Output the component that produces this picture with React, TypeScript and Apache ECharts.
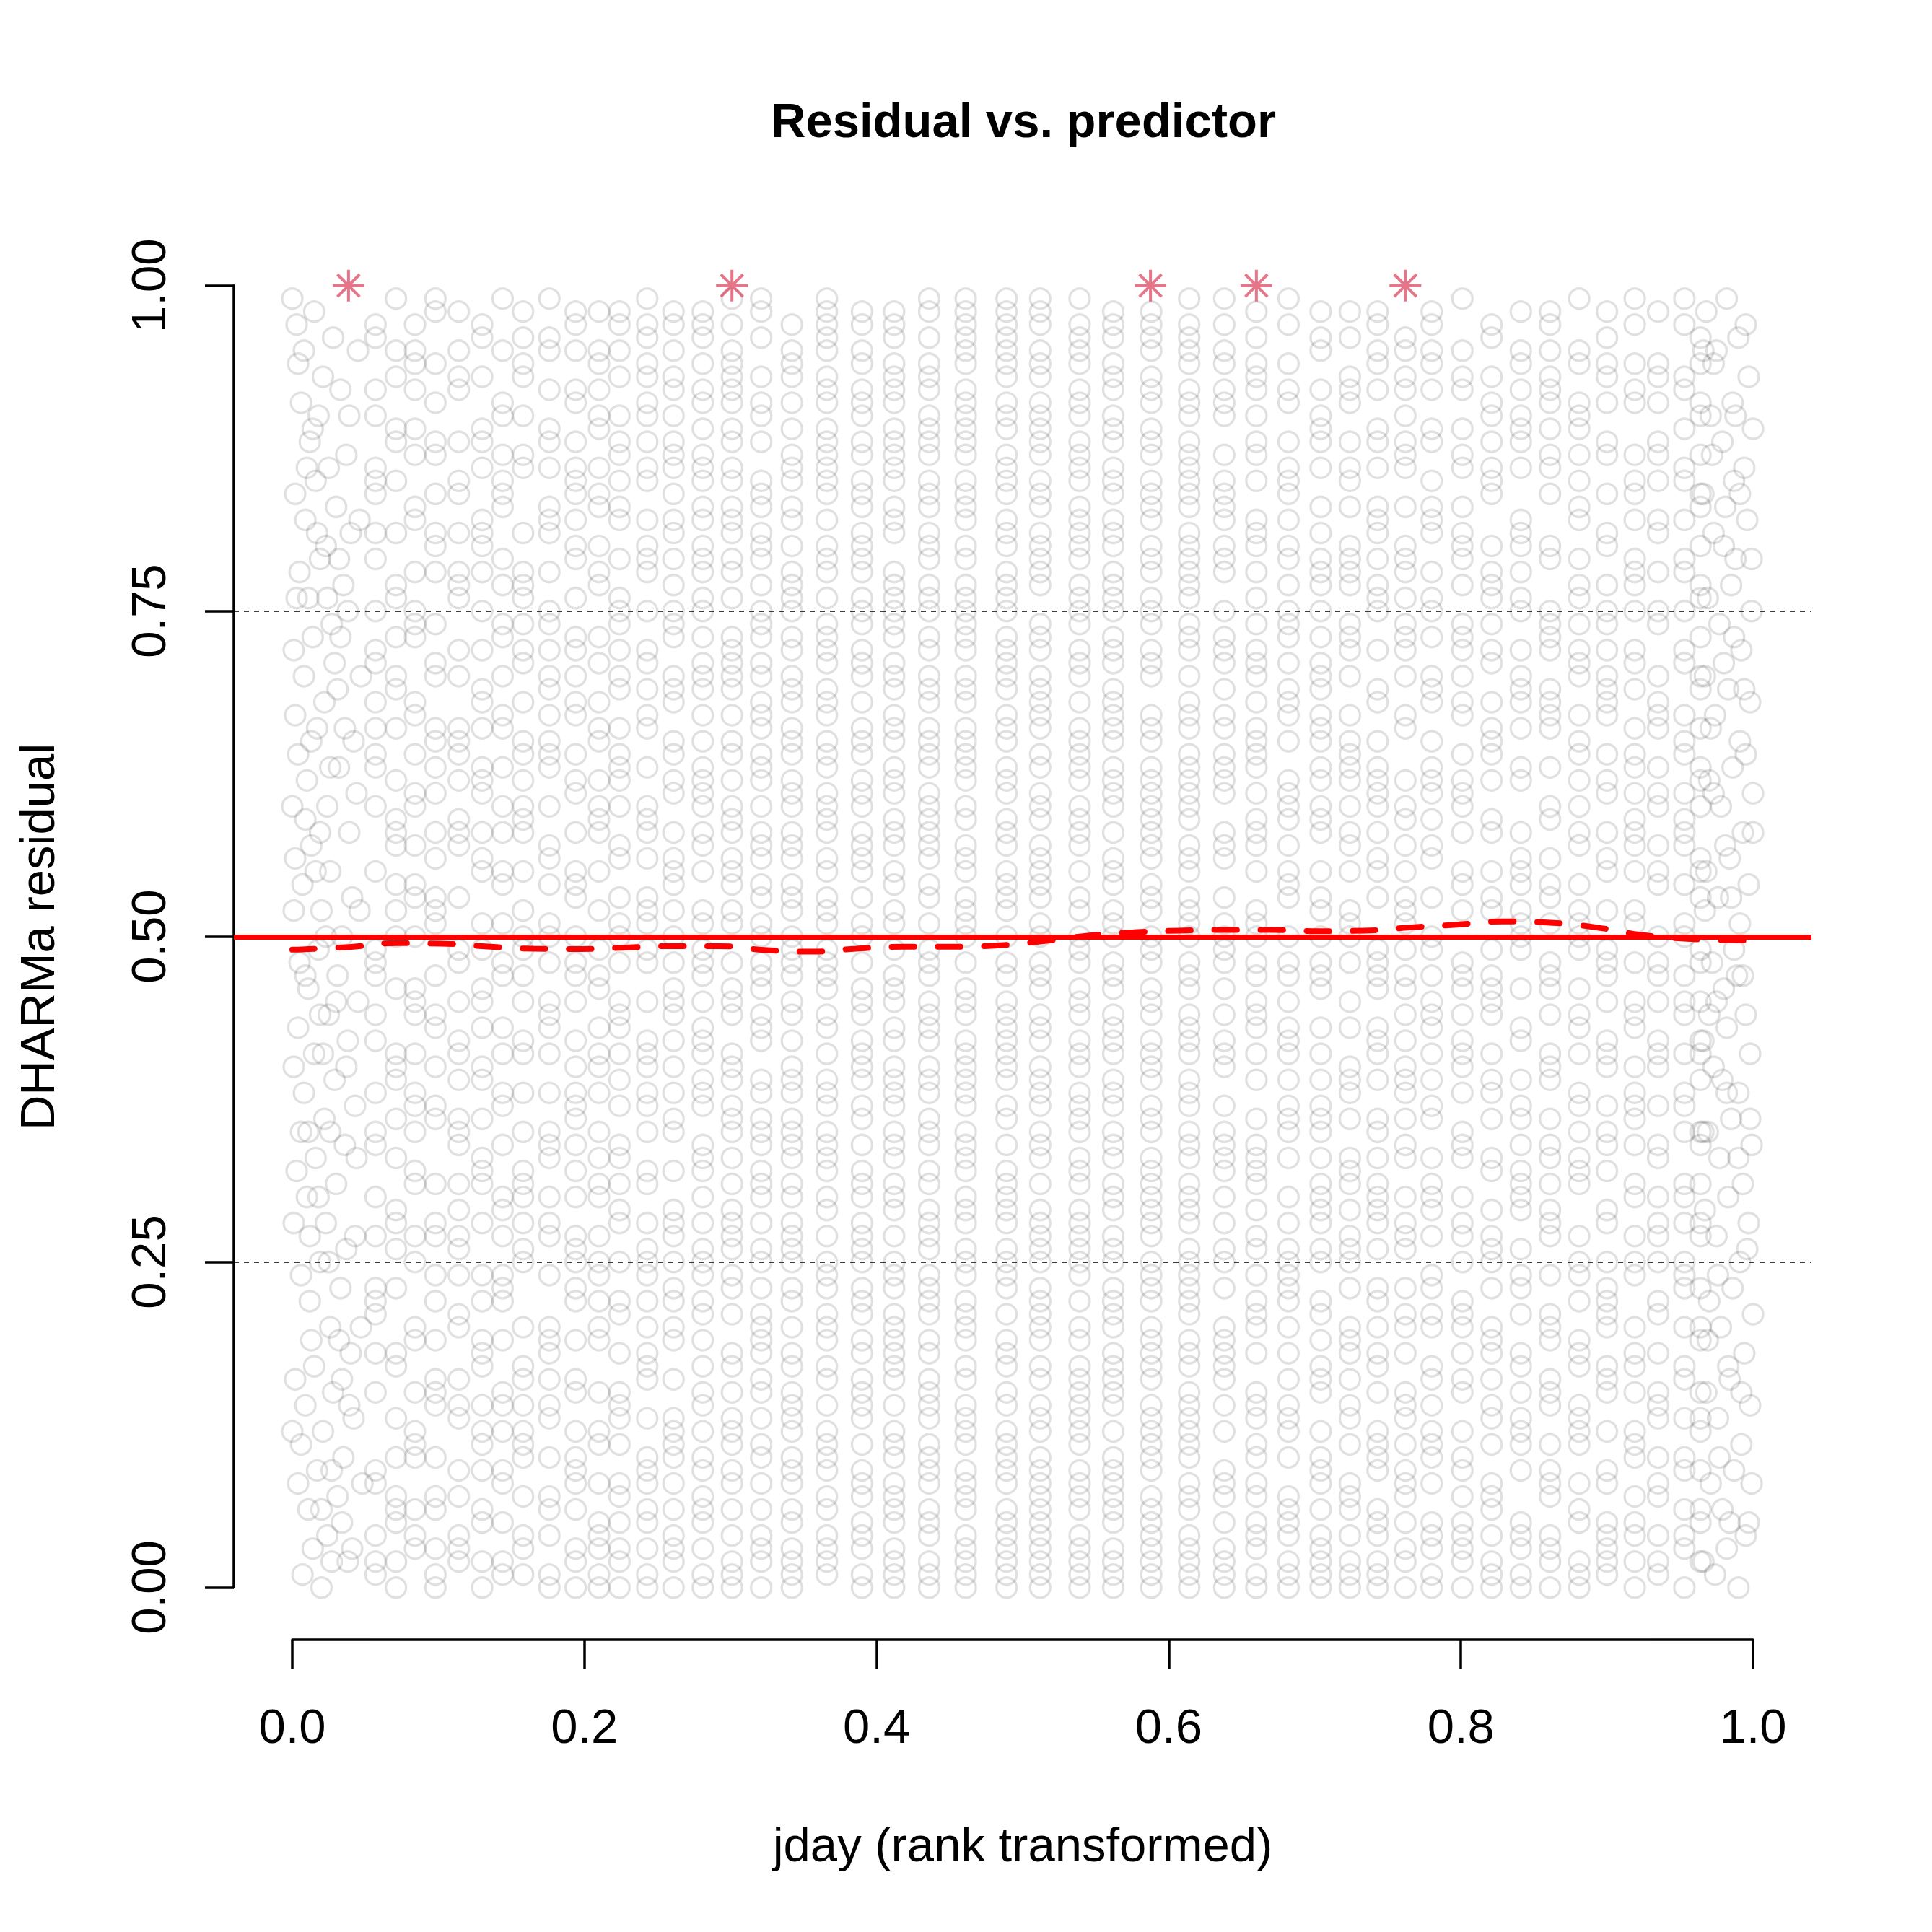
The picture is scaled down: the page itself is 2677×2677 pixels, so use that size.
import React, { useEffect, useRef } from "react";
import * as echarts from "echarts";

// x position of every tied jday group (rank transformed)
const columnX = [
  0.057, 0.071, 0.084, 0.098, 0.114, 0.13, 0.144, 0.158, 0.176, 0.194, 0.21, 0.224,
  0.243, 0.261, 0.281, 0.301, 0.321, 0.342, 0.366, 0.39, 0.412, 0.436, 0.461, 0.489,
  0.512, 0.539, 0.562, 0.588, 0.614, 0.638, 0.66, 0.682, 0.704, 0.724, 0.743, 0.762,
  0.78, 0.801, 0.821, 0.841, 0.861, 0.881, 0.9, 0.919, 0.935, 0.953, 0.964,
];

// scaled residuals per column, in hundredths
const columnY = [
  "01 02 08 09 15 21 22 23 30 34 35 42 47 48 49 55 63 64 66 71 72 79 84 85 86 90 96 97",
  "00 05 06 07 13 17 18 26 28 29 33 39 40 41 50 52 57 58 59 62 69 70 76 77 81 88 89 93 99",
  "03 04 10 11 12 19 20 25 31 32 37 38 44 45 46 53 54 60 61 67 68 73 74 75 82 83 87 92 94 95",
  "00 01 06 07 14 15 16 22 24 27 28 36 37 43 44 51 52 53 56 63 65 66 70 71 78 80 81 87 88 91 98 99",
  "02 03 04 09 13 14 20 21 26 27 29 34 35 36 41 42 48 49 57 58 59 64 65 66 72 76 77 78 84 85 92 93 95",
  "00 05 06 11 12 17 18 19 24 31 32 33 39 40 45 46 51 55 56 61 62 63 68 69 75 80 81 82 88 89 96 97",
  "01 02 08 09 14 15 22 23 24 29 30 37 38 43 47 48 54 55 60 66 67 73 74 79 83 84 85 90 91 99",
  "03 04 10 11 12 16 17 25 26 30 31 32 38 41 42 49 50 52 58 59 60 64 65 71 72 76 77 78 86 87 93 94 98",
  "00 01 06 07 13 14 18 19 20 27 28 33 34 35 43 44 45 50 51 56 57 63 64 65 69 70 74 75 81 82 83 88 89 95 96 99",
  "02 03 08 09 10 15 16 22 23 26 27 32 36 37 38 42 47 48 53 54 55 61 62 67 68 72 73 79 80 84 85 86 91 92 97 98",
  "00 01 04 05 11 12 19 20 24 25 30 31 35 40 41 46 47 52 58 59 60 65 66 71 77 78 83 84 89 90 94 95",
  "02 03 07 08 13 14 15 21 22 28 29 33 34 39 43 44 45 50 51 56 57 62 63 64 69 70 74 75 76 82 83 87 88 93 97 98",
  "00 01 05 06 09 10 16 17 18 24 25 26 31 32 37 38 41 42 48 49 52 53 58 59 60 66 67 71 72 78 79 80 85 86 90 91 94 96 99",
  "02 03 04 08 11 12 13 19 20 23 27 28 29 35 36 40 44 45 46 50 54 55 56 61 62 65 68 69 73 74 77 81 82 84 87 88 92 93 95 97",
  "00 01 05 06 07 10 14 15 17 21 22 25 26 30 33 34 38 39 42 43 47 48 49 52 57 58 61 62 63 67 70 71 75 76 79 80 83 86 87 89 91 94 96 98",
  "01 02 04 08 09 12 13 17 18 23 24 27 28 29 33 36 37 40 41 45 46 51 52 55 56 59 60 64 65 69 70 72 73 78 79 82 83 86 88 89 92 93 95 97",
  "00 03 04 06 10 11 15 16 19 20 21 25 26 31 32 35 36 39 43 44 47 48 51 53 54 57 58 62 63 66 67 68 71 74 75 77 80 81 84 85 90 91 96 99",
  "00 01 02 05 06 09 10 13 14 15 18 22 23 26 27 28 31 34 35 36 39 40 44 45 48 49 50 53 54 57 58 61 62 65 66 69 70 73 76 77 78 82 83 86 87 91 94 95",
  "01 02 03 06 07 10 11 12 16 17 20 21 24 25 29 30 33 34 35 38 39 43 44 47 48 49 52 53 56 59 60 61 64 65 68 69 72 73 74 78 79 82 85 86 88 89 92 93 96 97 99",
  "00 01 04 05 08 09 13 14 15 18 19 22 23 26 27 28 31 32 36 37 40 41 42 45 46 50 51 55 56 57 60 61 64 65 68 71 72 75 76 79 80 81 84 85 88 90 91 94 95 98",
  "00 02 03 06 07 08 11 12 16 17 19 20 21 24 25 29 30 33 34 37 38 39 42 43 46 47 51 52 55 58 59 62 63 66 67 70 71 74 75 77 78 82 83 86 87 89 92 93 96 97",
  "01 02 05 06 09 10 11 14 15 18 19 22 23 26 27 28 31 32 35 36 39 40 43 44 45 48 49 53 54 57 58 60 61 64 65 66 69 70 73 76 77 80 81 84 85 88 89 90 93 94 98 99",
  "00 01 03 04 07 08 09 12 13 16 17 20 21 22 25 26 29 30 33 34 35 38 39 41 42 45 46 50 51 52 55 56 59 60 63 64 65 68 69 72 73 75 76 79 80 83 84 85 88 89 91 92 95 96 98 99",
  "00 02 03 05 06 09 10 11 14 15 18 19 23 24 25 28 29 31 32 36 37 40 41 43 44 47 48 52 53 54 57 58 61 62 66 67 70 71 72 75 76 78 81 82 85 86 87 90 91 94 95 97 99",
  "01 02 04 05 06 08 09 12 13 16 17 20 21 22 25 26 28 29 33 34 37 38 39 42 43 46 47 50 51 54 55 56 59 60 63 64 67 68 69 72 73 77 78 80 81 84 85 88 89 90 93 94 97 98",
  "00 01 03 04 07 08 11 12 13 15 16 19 20 24 25 27 28 31 32 35 36 37 40 41 44 45 48 49 52 53 57 58 59 62 63 65 66 70 71 74 75 76 79 80 82 83 86 87 91 92 95 96 99",
  "00 02 03 06 07 09 10 14 15 17 18 21 22 23 26 27 30 31 34 35 38 39 42 43 46 47 51 52 55 56 60 61 62 65 66 68 69 72 73 76 77 80 81 84 85 88 89 92 93 96 97",
  "01 02 04 05 06 09 10 12 13 16 17 19 20 23 24 27 28 30 31 32 35 36 39 40 41 44 45 48 49 53 54 57 58 59 61 62 65 66 70 71 74 75 78 79 82 83 84 87 88 91 92 95 96 98",
  "00 01 03 04 07 08 11 12 14 15 18 19 22 23 25 26 29 30 33 34 37 38 42 43 46 47 50 51 52 55 56 60 61 63 64 67 68 72 73 76 77 79 80 83 84 86 87 90 91 94 95 97",
  "00 01 02 07 08 12 16 17 18 19 25 26 30 33 34 35 40 41 44 48 49 50 51 56 57 62 63 64 67 71 72 73 78 79 83 84 85 90 91 92 95 97",
  "01 03 04 05 10 11 14 15 20 21 22 27 31 32 33 34 39 43 44 45 50 51 52 58 59 63 64 65 66 71 72 76 80 81 82 87 88 93 94 96 98",
  "00 01 05 06 07 12 13 14 18 23 24 25 26 30 35 36 37 42 43 47 48 53 54 55 60 61 62 67 68 69 74 75 79 80 84 85 86 91 92 97",
  "00 02 03 04 09 10 15 16 17 21 22 28 29 30 31 36 37 41 46 47 48 52 53 58 59 60 65 66 67 70 71 77 78 79 83 88 89 90 95 96",
  "01 02 06 07 08 13 14 19 20 25 26 27 32 33 38 39 40 45 50 51 52 57 58 63 64 65 72 73 74 79 80 85 86 91 92 93 98",
  "00 01 04 05 10 11 12 17 18 22 23 29 30 31 35 36 41 42 43 48 49 55 56 61 62 63 68 69 75 76 77 82 83 88 89 94 95 97",
  "02 03 07 08 09 14 15 20 21 26 27 28 33 34 38 39 40 46 47 51 52 53 59 60 66 67 72 73 74 79 80 86 87 88 92 93 96",
  "00 01 04 05 10 11 12 16 17 23 24 29 30 31 36 37 43 44 45 49 50 56 57 61 62 63 69 70 75 76 81 82 83 88 89 94 95 98",
  "00 03 04 05 09 10 15 16 20 21 22 27 28 34 35 40 41 42 47 48 54 55 60 61 62 67 68 73 74 79 80 81 86 87 92 93 99",
  "01 02 06 07 08 13 14 18 19 25 26 27 32 33 38 39 45 46 47 52 53 58 59 64 65 66 71 72 77 78 84 85 86 90 91 96 97",
  "00 01 04 05 11 12 13 17 18 23 24 30 31 32 36 37 42 43 50 51 52 55 56 62 63 68 69 70 75 76 81 82 88 89 90 94 95",
  "02 03 07 08 09 14 15 20 21 27 28 29 33 34 40 41 46 47 48 53 54 59 60 66 67 68 73 74 79 80 86 87 91 92 93 97 98",
  "00 01 05 06 11 12 13 18 19 24 25 31 32 33 37 38 43 44 50 51 52 57 58 64 65 70 71 72 76 77 82 83 89 90 91 95 99",
  "01 02 03 08 09 15 16 21 22 23 28 29 34 35 41 42 47 48 49 55 56 61 62 68 69 70 74 75 80 81 87 88 93 94 96",
  "00 04 05 10 11 12 17 18 24 25 30 31 36 37 38 44 45 51 52 57 58 59 63 64 71 72 77 78 79 84 85 91 92 97",
  "01 02 07 08 13 14 15 21 22 27 28 33 34 40 41 42 47 48 54 55 60 61 66 67 68 74 75 81 82 87 88 93 94",
  "00 03 04 09 10 16 17 23 24 25 30 31 37 38 44 45 50 51 57 58 59 64 65 71 72 78 79 85 86 92 93 97",
  "02 05 06 12 13 19 20 27 28 34 35 41 42 48 49 55 56 62 63 69 70 76 77 83 84 90 91 96",
];

// further residuals of the same columns (second pass over the picture)
const columnYMore = [
  "04 18 27 38 44 60 68 75 81 92",
  "02 10 23 36 46 54 66 73 85 95",
  "06 15 27 35 41 50 57 64 78 89 97",
  "03 10 19 31 40 47 58 61 74 84 94",
  "07 16 24 31 39 45 53 62 70 81 88 98",
  "02 09 14 22 28 36 43 49 58 66 72 78 86 93",
  "05 12 19 27 34 41 51 58 63 70 77 87 95",
  "01 07 14 20 28 35 45 47 55 62 68 74 81 90 96",
  "04 10 16 24 30 38 41 48 54 60 67 72 78 86 92",
  "00 06 12 19 25 30 34 40 45 50 58 64 70 76 82 88 95",
  "03 08 15 22 27 33 38 43 49 55 62 68 73 80 86 92 98",
  "00 05 11 18 25 31 37 41 48 53 60 66 72 79 85 90 95",
  "03 08 13 20 22 28 35 40 45 51 56 63 69 75 82 88 93 97",
  "00 06 10 16 22 25 32 38 42 48 52 58 64 70 75 79 86 90 98",
  "03 09 12 19 24 28 32 37 41 45 51 55 60 65 69 73 78 82 85 92 97",
  "00 06 11 15 21 26 31 35 39 44 48 54 58 62 67 71 76 81 85 91 94 99",
  "02 08 13 18 23 28 30 34 38 42 46 50 56 60 64 70 73 79 83 88 93 98",
  "03 08 12 17 20 25 30 33 38 42 47 52 56 60 64 68 72 75 80 85 89 93 97",
  "04 09 14 19 23 27 32 37 41 46 51 55 58 63 67 71 76 80 84 87 91 95 98",
  "03 07 11 16 21 25 30 34 39 44 48 53 58 62 66 70 74 78 83 87 92 97",
  "01 05 10 14 18 23 27 31 35 40 45 49 54 57 61 65 69 73 76 81 85 88 91 94 98",
  "00 04 08 13 16 21 24 29 34 38 42 47 51 56 59 63 68 72 75 79 83 87 92 96",
  "02 06 11 14 19 24 28 32 37 40 44 48 53 57 62 66 70 74 77 82 87 90 94 97",
  "01 04 08 12 17 21 26 30 34 39 42 45 50 55 59 63 65 69 73 77 80 84 89 93 96 98",
  "00 03 07 10 14 19 23 27 31 35 40 44 48 53 57 61 66 70 74 79 83 87 91 95 99",
  "02 06 09 14 17 22 26 29 33 38 42 46 50 55 60 64 68 72 77 81 85 88 90 94 97",
  "01 05 08 12 16 20 25 29 33 37 41 44 48 50 54 58 63 67 71 75 78 82 86 90 94 98",
  "00 03 07 11 14 18 22 25 29 33 37 42 46 50 52 56 60 63 67 72 76 80 85 89 93 97",
  "02 06 10 13 17 21 24 28 31 35 39 41 44 48 53 57 59 62 66 70 74 78 81 85 88 92 96 99",
  "03 05 09 14 20 23 28 32 37 42 46 53 58 61 66 69 75 80 82 87 94 99",
  "00 07 08 13 18 24 26 29 36 41 47 48 55 57 61 68 70 74 78 85 90 92",
  "02 04 10 16 20 22 28 33 39 41 45 50 57 59 65 71 73 77 82 88 94 99",
  "01 06 08 12 19 25 26 33 35 39 43 50 55 62 63 69 73 75 81 86 92 98",
  "00 04 11 16 18 23 29 31 36 43 48 55 60 62 67 70 77 78 83 88 96",
  "02 06 09 15 20 26 28 33 39 46 47 53 58 60 65 72 79 81 86 92 98",
  "00 05 11 13 18 23 30 36 42 44 49 55 57 62 70 76 78 83 90 95",
  "03 08 14 20 21 27 33 39 41 47 53 59 65 68 73 78 85 92 97",
  "02 07 12 18 25 30 33 38 44 46 52 58 64 70 72 77 83 89 95",
  "00 04 11 16 20 23 29 36 41 44 49 55 62 68 74 76 80 88 93",
  "03 09 15 21 26 29 34 39 46 49 54 58 66 72 78 80 86 92 98",
  "00 04 11 16 19 24 31 36 39 44 51 56 63 69 72 75 84 89 95",
  "02 08 14 17 22 27 35 41 46 49 54 60 62 67 74 79 85 87 94",
  "04 05 12 17 20 25 32 37 40 45 52 58 64 67 72 77 84 91 98",
  "02 07 15 20 27 34 40 43 48 55 61 66 69 75 82 87 94 99",
  "04 10 18 25 30 37 45 50 57 63 70 78 85 91 98",
  "06 13 20 28 35 41 47 54 61 67 75 82 89 99",
  "09 15 23 31 39 45 53 60 66 73 80 87 94",
];

// sparse days at both ends: "x (thousandths):y (hundredths)"
const leftEdge =
  "3:97 8:95 15:98 21:93 28:96 6:91 12:88 18:90 25:86 33:92 2:84 9:82 16:85 23:80 30:83 37:87 5:78 11:76 19:79 27:74 35:77 1:72 8:70 14:73 22:68 29:71 36:66 4:64 10:62 17:66 24:60 32:63 39:58 2:56 7:54 13:57 20:52 26:55 34:50 41:53 5:48 11:46 18:49 25:44 31:47 38:42 1:40 8:38 15:41 22:36 29:39 36:34 43:37 3:32 10:30 16:33 23:28 30:31 37:26 6:24 12:22 19:25 26:20 33:23 40:18 2:16 9:14 15:17 21:12 28:15 35:10 4:08 11:06 17:09 24:04 31:07 38:02 7:01 14:03 20:00 27:02 34:05 42:13 45:45 44:61 46:82 0:99 0:60 1:28 0:12 13:65 19:44 26:35 32:79 39:90 43:27 47:70 48:08 " +
  "4:94 10:86 17:81 24:76 31:69 2:67 9:59 16:55 23:50 30:45 37:40 4:43 11:35 18:30 25:25 32:19 39:14 6:11 13:19 20:06 27:09 34:16 41:03 1:52 6:35 12:27 19:58 26:63 33:73 40:81 45:95 44:33 47:20 46:52 42:65 38:75 3:76 9:47 14:89 21:41";
const rightEdge =
  "968:98 975:95 982:99 990:96 997:93 971:90 979:88 986:91 994:86 1000:89 966:84 973:81 981:83 988:79 996:82 969:76 977:74 985:77 992:72 999:75 967:70 974:67 983:69 991:65 998:68 970:62 978:60 986:63 993:58 1000:61 968:55 976:53 984:56 991:51 997:54 972:48 980:46 987:49 995:44 966:42 973:40 982:43 990:38 998:41 969:35 977:33 985:36 993:31 999:34 967:29 975:27 983:30 991:25 997:28 970:22 978:20 986:23 994:18 1000:21 968:15 976:13 984:16 992:11 998:14 971:08 979:06 987:09 995:04 966:02 974:01 982:03 990:00 997:05 989:47 981:57 973:94 995:64 987:85 979:39 " +
  "966:95 972:87 980:80 987:73 994:69 1000:58 967:52 975:45 982:38 990:33 996:26 969:19 977:10 984:05 992:15 999:08 973:61 980:71 988:90 995:97 966:35 970:44 985:53 993:47 998:36 976:24 983:17 991:84 999:79 971:66";

// simulation outliers
const outlierX = [0.0385, 0.301, 0.5875, 0.66, 0.762];
const outlierY = [1, 1, 1, 1, 1];

// smoothed median of the residuals
const smoothX = [
  0.0, 0.039, 0.071, 0.102, 0.134, 0.165, 0.198, 0.228, 0.26, 0.292, 0.323, 0.355, 0.386,
  0.418, 0.449, 0.481, 0.512, 0.547, 0.576, 0.607, 0.639, 0.671, 0.703, 0.734, 0.765,
  0.797, 0.829, 0.861, 0.893, 0.923, 0.955, 0.987, 0.996,
];
const smoothY = [
  0.49, 0.492, 0.495, 0.4946, 0.4924, 0.4907, 0.4905, 0.4916, 0.4927, 0.4927, 0.4898,
  0.4885, 0.4907, 0.4922, 0.4922, 0.4931, 0.4962, 0.501, 0.5033, 0.5046, 0.5051, 0.5051,
  0.5042, 0.5046, 0.507, 0.5092, 0.5116, 0.5107, 0.507, 0.5014, 0.4983, 0.4972, 0.497,
];

const quantileLines = [0.25, 0.75];
const medianLine = 0.5;

const FONT = '"Liberation Sans", Arial, Helvetica, sans-serif';

const parseEdge = (s: string) =>
  s.split(" ").map((p) => {
    const [a, b] = p.split(":");
    return [Number(a) / 1000, Number(b) / 100];
  });

const App = () => {
  const chartRef = useRef<HTMLDivElement>(null);

  useEffect(() => {
    if (!chartRef.current) return;
    const chart = echarts.init(chartRef.current, null, { renderer: "svg" });

    const points: number[][] = [];
    columnX.forEach((x, i) => {
      const vals = `${columnY[i] || ""} ${columnYMore[i] || ""}`.trim().split(/\s+/);
      vals.forEach((v) => points.push([x, Number(v) / 100]));
    });
    points.push(...parseEdge(leftEdge), ...parseEdge(rightEdge));

    const axisLine = { show: true, onZero: false, lineStyle: { color: "#000", width: 3.5 } };
    const axisTick = { show: true, inside: false, length: 40, lineStyle: { color: "#000", width: 3.5 } };
    const labelStyle = { color: "#000", fontSize: 67, fontFamily: FONT };

    const option: echarts.EChartsCoreOption = {
      animation: false,
      backgroundColor: "#fff",
      grid: [
        { left: 324, right: 167, top: 323.5, bottom: 405 },
        { left: 324, top: 395.7, height: 1803.8, width: 2186 },
        { left: 405, width: 2024, top: 323.5, bottom: 405 },
      ],
      xAxis: [
        { gridIndex: 0, type: "value", min: -0.04, max: 1.04, show: false },
        { gridIndex: 1, type: "value", min: 0, max: 1, show: false },
        {
          gridIndex: 2,
          type: "value",
          min: 0,
          max: 1,
          interval: 0.2,
          position: "bottom",
          axisLine,
          axisTick,
          splitLine: { show: false },
          axisLabel: { ...labelStyle, margin: 86, formatter: (v: number) => v.toFixed(1) },
        },
      ],
      yAxis: [
        { gridIndex: 0, type: "value", min: -0.04, max: 1.04, show: false },
        {
          gridIndex: 1,
          type: "value",
          min: 0,
          max: 1,
          interval: 0.25,
          position: "left",
          axisLine,
          axisTick,
          splitLine: { show: false },
          axisLabel: { ...labelStyle, margin: 85, rotate: 90, formatter: (v: number) => v.toFixed(2) },
        },
        { gridIndex: 2, type: "value", min: 0, max: 1, show: false },
      ],
      graphic: [
        {
          type: "text",
          x: 1418,
          y: 166,
          style: {
            text: "Residual vs. predictor",
            font: `bold 67px ${FONT}`,
            fill: "#000",
            align: "center",
            verticalAlign: "middle",
            textAlign: "center",
            textVerticalAlign: "middle",
          },
        },
        {
          type: "text",
          x: 1417,
          y: 2555,
          style: {
            text: "jday (rank transformed)",
            font: `67px ${FONT}`,
            fill: "#000",
            align: "center",
            verticalAlign: "middle",
            textAlign: "center",
            textVerticalAlign: "middle",
          },
        },
        {
          type: "text",
          x: 51,
          y: 1298,
          rotation: Math.PI / 2,
          style: {
            text: "DHARMa residual",
            font: `67px ${FONT}`,
            fill: "#000",
            align: "center",
            verticalAlign: "middle",
            textAlign: "center",
            textVerticalAlign: "middle",
          },
        },
      ],
      series: [
        {
          type: "scatter",
          xAxisIndex: 0,
          yAxisIndex: 0,
          data: points,
          symbol: "circle",
          symbolSize: 28,
          progressive: 0,
          silent: true,
          itemStyle: { color: "rgba(0,0,0,0)", borderColor: "rgba(0,0,0,0.15)", borderWidth: 3.3 },
          z: 1,
        },
        {
          type: "scatter",
          xAxisIndex: 0,
          yAxisIndex: 0,
          data: outlierX.map((x, i) => [x, outlierY[i]]),
          symbol: "path://M10,0L10,20M0,10L20,10M3,3L17,17M3,17L17,3",
          symbolSize: 44,
          symbolKeepAspect: true,
          silent: true,
          itemStyle: { color: "rgba(0,0,0,0)", borderColor: "#DF536B", borderWidth: 4 },
          z: 2,
        },
        {
          type: "line",
          xAxisIndex: 0,
          yAxisIndex: 0,
          data: smoothX.map((x, i) => [x, smoothY[i]]),
          smooth: true,
          showSymbol: false,
          silent: true,
          lineStyle: { color: "#FF0000", width: 8, type: [31, 33], cap: "round" },
          markLine: {
            silent: true,
            symbol: ["none", "none"],
            label: { show: false },
            data: [
              ...quantileLines.map((v) => ({
                yAxis: v,
                lineStyle: { color: "#000", width: 1.6, type: [7, 7] },
              })),
              { yAxis: medianLine, lineStyle: { color: "#FF0000", width: 7, type: "solid" } },
            ],
          },
          z: 3,
        },
      ],
    };

    chart.setOption(option);

    const handleResize = () => chart.resize();
    window.addEventListener("resize", handleResize);
    return () => {
      window.removeEventListener("resize", handleResize);
      chart.dispose();
    };
  }, []);

  return (
    <div
      ref={chartRef}
      style={{ position: "fixed", left: 0, top: 0, width: 2677, height: 2677 }}
    />
  );
};

export default App;
